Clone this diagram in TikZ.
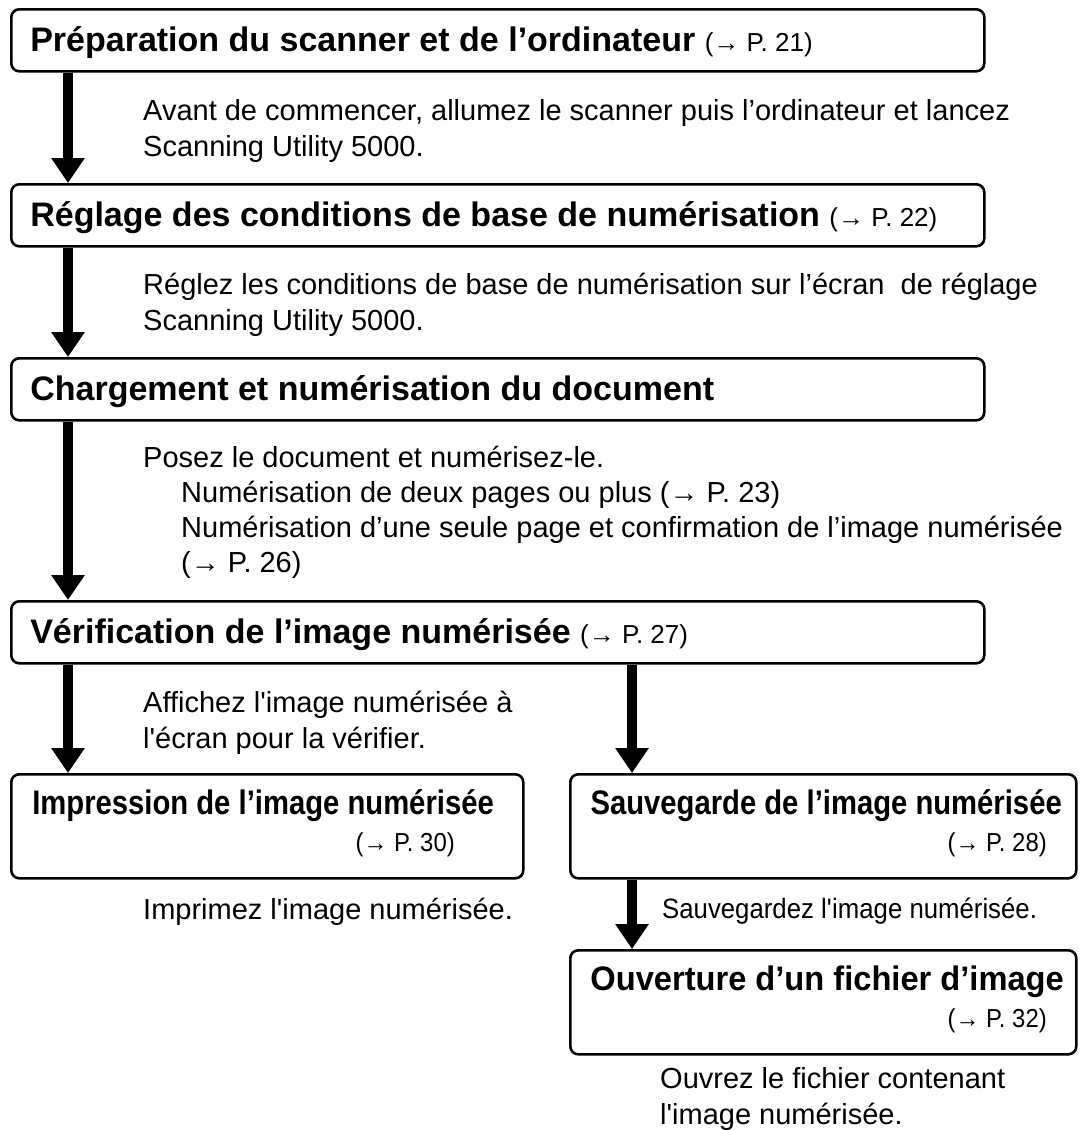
\documentclass[tikz,border=0pt]{standalone}
\usepackage{fontspec}
\setmainfont{Liberation Sans}
\newfontfamily\condbold[FakeStretch=0.86]{Liberation Sans Bold}
\newfontfamily\semibold[FakeStretch=0.96]{Liberation Sans Bold}
\newfontfamily\condreg[FakeStretch=0.92]{Liberation Sans}
\usetikzlibrary{arrows.meta,positioning}

\newcommand{\ttlfont}{\fontsize{34}{40}\selectfont\bfseries}
\newcommand{\reffont}{\fontsize{26}{30}\selectfont\mdseries}
\newcommand{\bodyfont}{\fontsize{29}{36}\selectfont}

\begin{document}
\begin{tikzpicture}[x=1pt,y=1pt,yscale=-1,
	box/.style={draw, line width=2.6pt, rounded corners=8pt, inner sep=0pt, anchor=north west},
	topbox/.style={box, minimum width=973pt, minimum height=62pt, inner xsep=19pt, text height=26pt, text depth=4pt},
	lowbox/.style={box, minimum height=104pt},
	flow/.style={line width=10pt, -{Triangle[length=25pt,width=32pt]}},
	body/.style={anchor=north west, inner sep=0pt, align=left, font=\bodyfont},
	ttl/.style={anchor=base east, inner sep=0pt, font=\fontsize{34}{40}\condbold},
	pref/.style={anchor=base east, inner sep=0pt, font=\fontsize{26}{30}\condreg}]
	\useasboundingbox (0,0) rectangle (1081,1130);

	%Shape: main steps
	\node [topbox] (prep) at (10,8) {\makebox[935pt][l]{\ttlfont Préparation du scanner et de l’ordinateur {\reffont(→ P. 21)}}};
	\node [topbox] (setup) at (10,183) {\makebox[935pt][l]{\ttlfont Réglage des conditions de base de numérisation {\reffont(→ P. 22)}}};
	\node [topbox] (load) at (10,357) {\makebox[935pt][l]{\ttlfont Chargement et numérisation du document}};
	\node [topbox] (check) at (10,600) {\makebox[935pt][l]{\ttlfont Vérification de l’image numérisée {\reffont(→ P. 27)}}};

	%Shape: last steps
	\node [lowbox, minimum width=512pt] (print) at (10,773) {};
	\node [lowbox, minimum width=506pt] (save) at (569,773) {};
	\node [lowbox, minimum width=506pt] (open) at (569,949) {};
	\node [ttl] (printT) at (494,814) {Impression de l’image numérisée};
	\node [pref] (printP) at (455,851) {(→ P. 30)};
	\node [ttl] (saveT) at (1062,814) {Sauvegarde de l’image numérisée};
	\node [pref] (saveP) at (1047,851) {(→ P. 28)};
	\node [ttl, font=\fontsize{34}{40}\semibold] (openT) at (1064,990) {Ouverture d’un fichier d’image};
	\node [pref] (openP) at (1047,1027) {(→ P. 32)};

	%Straight Lines
	\draw [flow] ([xshift=58pt]prep.south west) -- ([xshift=58pt]setup.north west);
	\draw [flow] ([xshift=58pt]setup.south west) -- ([xshift=58pt]load.north west);
	\draw [flow] ([xshift=58pt]load.south west) -- ([xshift=58pt]check.north west);
	\draw [flow] ([xshift=58pt]check.south west) -- ([xshift=58pt]print.north west);
	\draw [flow] ([xshift=622pt]check.south west) -- ([xshift=63pt]save.north west);
	\draw [flow] ([xshift=63pt]save.south west) -- ([xshift=63pt]open.north west);

	% Text Node
	\node [body] (t1) at (143,94.8) {\strut Avant de commencer, allumez le scanner puis l’ordinateur et lancez\\\strut Scanning Utility 5000.};
	% Text Node
	\node [body] (t2) at (143,268.8) {\strut Réglez les conditions de base de numérisation sur l’écran\ \ de réglage\\\strut Scanning Utility 5000.};
	% Text Node
	\node [body, font=\fontsize{29}{35}\selectfont] (t3) at (143,442.8) {\strut Posez le document et numérisez-le.\\
		\strut\hspace*{38pt}Numérisation de deux pages ou plus (→ P. 23)\\
		\strut\hspace*{38pt}Numérisation d’une seule page et confirmation de l’image numérisée\\
		\strut\hspace*{38pt}(→ P. 26)};
	% Text Node
	\node [body] (t4) at (143,686.8) {\strut Affichez l\textquotesingle image numérisée à\\\strut l\textquotesingle écran pour la vérifier.};
	% Text Node
	\node [body] (t5) at (143,893.8) {\strut Imprimez l\textquotesingle image numérisée.};
	% Text Node
	\node [body, font=\fontsize{28}{36}\condreg] (t6) at (662,892.8) {\strut Sauvegardez l\textquotesingle image numérisée.};
	% Text Node
	\node [body] (t7) at (660,1062.8) {\strut Ouvrez le fichier contenant\\\strut l\textquotesingle image numérisée.};
\end{tikzpicture}
\end{document}
